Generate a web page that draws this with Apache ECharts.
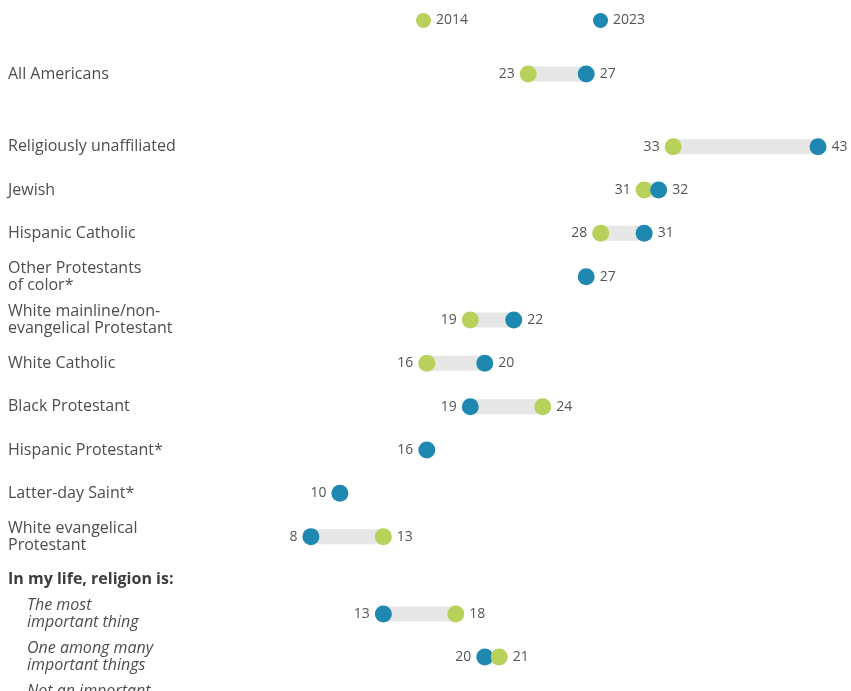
<!DOCTYPE html>
<html>
<head>
<meta charset="utf-8">
<script src="https://cdn.jsdelivr.net/npm/echarts@6/dist/echarts.min.js"></script>
<style>html,body{margin:0;padding:0;background:#fff}#chart{width:851px;height:691px}</style>
</head>
<body>
<div id="chart"></div>
<script>
// ---- data ----
const allCats = ['All Americans'];
const all2014 = [23];
const all2023 = [27];

const groupCats = [
  'Religiously unaffiliated',
  'Jewish',
  'Hispanic Catholic',
  'Other Protestants\nof color*',
  'White mainline/non-\nevangelical Protestant',
  'White Catholic',
  'Black Protestant',
  'Hispanic Protestant*',
  'Latter-day Saint*',
  'White evangelical\nProtestant'
];
const group2014 = [33, 31, 28, null, 19, 16, 24, null, null, 13];
const group2023 = [43, 32, 31, 27, 22, 20, 19, 16, 10, 8];
const soloLabelSide = ['right', 'right', 'right', 'right', 'right', 'right', 'right', 'left', 'left', 'right'];

const lifeHeader = 'In my life, religion is:';
const lifeCats = ['The most\nimportant thing', 'One among many\nimportant things', 'Not an important\nthing'];
const life2014 = [18, 21, 32];
const life2023 = [13, 20, 27];

// ---- styles ----
const GREEN = '#b8d15a';
const BLUE = '#1f88b0';
const GRAY = '#e6e6e6';
const FONT = '"Open Sans", "Noto Sans", sans-serif';

const chart = echarts.init(document.getElementById('chart'));

const gridDefs = [
  { top: 52.5, height: 43 },
  { top: 125, height: 433.3 },
  { top: 592.5, height: 129 }
];
const rowsets = [
  { cats: allCats, a: all2014, b: all2023, solo: null, italic: false },
  { cats: groupCats, a: group2014, b: group2023, solo: soloLabelSide, italic: false },
  { cats: lifeCats, a: life2014, b: life2023, solo: null, italic: true }
];

const grids = [], xAxes = [], yAxes = [], series = [];

rowsets.forEach((rs, gi) => {
  grids.push({
    left: 195, right: 4, top: gridDefs[gi].top, height: gridDefs[gi].height,
    outerBoundsMode: 'none', containLabel: false
  });
  xAxes.push({
    type: 'value', gridIndex: gi, min: 0, max: 45,
    show: false, splitLine: { show: false }
  });
  yAxes.push({
    type: 'category', gridIndex: gi, data: rs.cats, inverse: true,
    axisLine: { show: false }, axisTick: { show: false }, splitLine: { show: false },
    axisLabel: {
      align: 'left', margin: rs.italic ? 168 : 187,
      color: '#4d4d4d', fontSize: 16, fontFamily: FONT, lineHeight: 17,
      fontStyle: rs.italic ? 'italic' : 'normal'
    }
  });

  // connecting bars
  const barData = [];
  rs.cats.forEach((c, i) => {
    if (rs.a[i] != null && rs.b[i] != null) {
      barData.push([Math.min(rs.a[i], rs.b[i]), Math.max(rs.a[i], rs.b[i]), i]);
    }
  });
  series.push({
    type: 'custom', xAxisIndex: gi, yAxisIndex: gi, silent: true, z: 1,
    encode: { x: [0, 1], y: 2 },
    data: barData,
    renderItem: (params, api) => {
      const p1 = api.coord([api.value(0), api.value(2)]);
      const p2 = api.coord([api.value(1), api.value(2)]);
      return { type: 'rect', shape: { x: p1[0], y: p1[1] - 7.5, width: p2[0] - p1[0], height: 15 }, style: { fill: GRAY } };
    }
  });

  function sideOf(v, other, i) {
    if (other == null) return rs.solo ? rs.solo[i] : 'right';
    return v <= other ? 'left' : 'right';
  }
  function pts(vals, others) {
    const out = [];
    vals.forEach((v, i) => {
      if (v == null) return;
      out.push({ value: [v, i], label: { position: sideOf(v, others[i], i) } });
    });
    return out;
  }
  const labelBase = {
    show: true, distance: 5, color: '#555', fontSize: 14, fontFamily: FONT,
    formatter: p => p.value[0]
  };
  // In the life grid the right-hand 2014 dot sits above the 2023 dot
  series.push({
    name: '2014', type: 'scatter', xAxisIndex: gi, yAxisIndex: gi,
    symbolSize: 17, itemStyle: { color: GREEN, opacity: 1 },
    z: gi === 2 ? 4 : 2,
    label: labelBase, data: pts(rs.a, rs.b)
  });
  series.push({
    name: '2023', type: 'scatter', xAxisIndex: gi, yAxisIndex: gi,
    symbolSize: 17, itemStyle: { color: BLUE, opacity: 1 },
    z: 3,
    label: labelBase, data: pts(rs.b, rs.a)
  });
});

chart.setOption({
  animation: false,
  backgroundColor: '#ffffff',
  textStyle: { fontFamily: FONT },
  legend: {
    data: ['2014', '2023'], left: 411, top: 8,
    icon: 'circle', itemWidth: 15, itemHeight: 15, itemGap: 125,
    textStyle: { color: '#555', fontSize: 14, fontFamily: FONT },
    selectedMode: false
  },
  grid: grids, xAxis: xAxes, yAxis: yAxes, series: series,
  graphic: [{
    type: 'text', x: 8, y: 579,
    style: { text: lifeHeader, fill: '#3d3d3d', font: 'bold 16px ' + FONT, verticalAlign: 'middle' }
  }]
});
</script>
</body>
</html>
